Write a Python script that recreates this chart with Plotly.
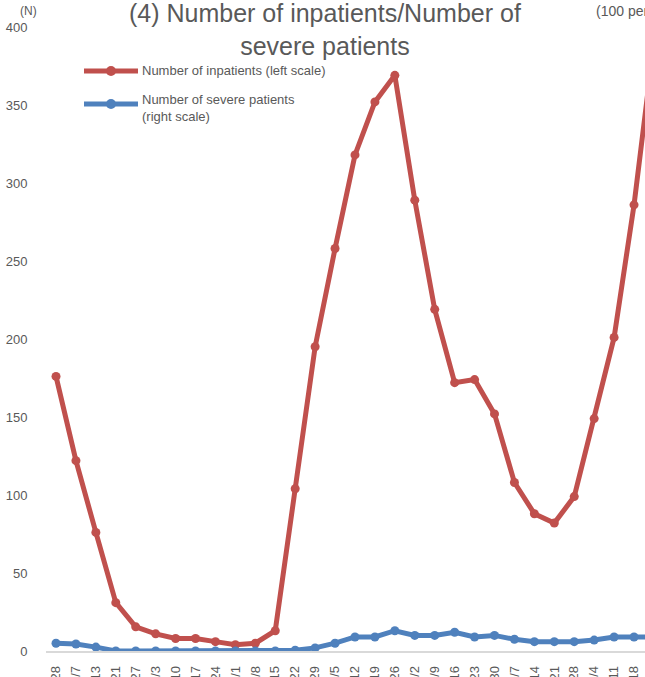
import plotly.graph_objects as go

# ---- data ----
dates = ["4/28", "5/7", "5/13", "5/21", "5/27", "6/3", "6/10", "6/17", "6/24", "7/1",
         "7/8", "7/15", "7/22", "7/29", "8/5", "8/12", "8/19", "8/26", "9/2", "9/9",
         "9/16", "9/23", "9/30", "10/7", "10/14", "10/21", "10/28", "11/4", "11/11",
         "11/18", "11/25"]
inpatients = [176, 122, 76, 31, 15.5, 11, 8, 8, 6, 4,
              5, 13, 104, 195, 258, 318, 352, 369, 289, 219,
              172, 174, 152, 108, 88, 82, 99, 149, 201, 286, 390]
severe = [5, 4.5, 2.5, 0, 0, 0, 0, 0, 0, 0,
          0, 0, 0.5, 2, 5, 9, 9, 13, 10, 10,
          12, 9, 10, 7.5, 6, 6, 6, 7, 9, 9, 9]
y_ticks = [0, 50, 100, 150, 200, 250, 300, 350, 400]

RED = "#C0504D"
BLUE = "#4F81BD"
GREY = "#595959"
FONT = "Arial, Liberation Sans, sans-serif"

idx = list(range(len(dates)))

fig = go.Figure()
fig.add_trace(go.Scatter(x=idx, y=inpatients, mode="lines+markers",
                         line=dict(color=RED, width=5),
                         marker=dict(color=RED, size=9),
                         name="Number of inpatients (left scale)", yaxis="y"))
fig.add_trace(go.Scatter(x=idx, y=severe, mode="lines+markers",
                         line=dict(color=BLUE, width=5),
                         marker=dict(color=BLUE, size=9),
                         name="Number of severe patients (right scale)", yaxis="y2"))

W, H = 645, 677
L, R, T, B = 46, 0, 27, 26
pw, ph = W - L - R, H - T - B


def px(xp):
    return (xp - L) / pw


def py(yp):
    return (H - B - yp) / ph


fig.update_layout(
    width=W, height=H,
    margin=dict(l=L, r=R, t=T, b=B),
    paper_bgcolor="white", plot_bgcolor="white",
    showlegend=False,
    font=dict(family=FONT, color=GREY),
    xaxis=dict(range=[-0.502, 29.55], tickmode="array", tickvals=idx, ticktext=dates,
               tickangle=-90, tickfont=dict(size=13, color=GREY),
               ticks="outside", ticklen=8, tickcolor="rgba(0,0,0,0)",
               showline=True, linecolor="#D9D9D9", linewidth=1.5,
               showgrid=False, zeroline=False, automargin=False, fixedrange=True),
    yaxis=dict(range=[0, 400], tickmode="array", tickvals=y_ticks,
               tickfont=dict(size=13, color=GREY),
               ticks="outside", ticklen=15, tickcolor="rgba(0,0,0,0)",
               showgrid=False, zeroline=False, showline=False, automargin=False),
    yaxis2=dict(range=[0, 400], overlaying="y", side="right", showticklabels=False,
                showgrid=False, zeroline=False, showline=False, automargin=False),
)

ann = []
ann.append(dict(text="(4) Number of inpatients/Number of<br>severe patients",
                x=px(325), xref="paper", y=py(30), yref="paper",
                xanchor="center", yanchor="middle", align="center",
                showarrow=False, font=dict(size=25, color=GREY, family=FONT)))
ann.append(dict(text="(N)", x=px(28), y=py(11), xref="paper", yref="paper",
                xanchor="center", yanchor="middle", showarrow=False,
                font=dict(size=12, color=GREY, family=FONT)))
ann.append(dict(text="(100 persons)", x=px(594), y=py(11), xref="paper", yref="paper",
                xanchor="left", yanchor="middle", showarrow=False,
                font=dict(size=14, color=GREY, family=FONT)))
ann.append(dict(text="Number of inpatients (left scale)", x=px(140), y=py(71),
                xref="paper", yref="paper", xanchor="left", yanchor="middle",
                showarrow=False, align="left",
                font=dict(size=13, color=GREY, family=FONT)))
ann.append(dict(text="Number of severe patients<br>(right scale)", x=px(140), y=py(108.5),
                xref="paper", yref="paper", xanchor="left", yanchor="middle",
                showarrow=False, align="left",
                font=dict(size=13, color=GREY, family=FONT)))
fig.update_layout(annotations=ann)

shapes = []
for color, yy in [(RED, 71), (BLUE, 104)]:
    shapes.append(dict(type="line", xref="paper", yref="paper",
                       x0=px(84), x1=px(138), y0=py(yy), y1=py(yy),
                       line=dict(color=color, width=5)))
    shapes.append(dict(type="circle", xref="paper", yref="paper",
                       xsizemode="pixel", ysizemode="pixel",
                       xanchor=px(111), yanchor=py(yy),
                       x0=-5, x1=5, y0=-5, y1=5,
                       fillcolor=color, line=dict(color=color, width=0)))
fig.update_layout(shapes=shapes)

fig.write_html("out.html", config={"displayModeBar": False},
               post_script="document.body.style.margin='0';document.body.style.overflow='hidden';")
